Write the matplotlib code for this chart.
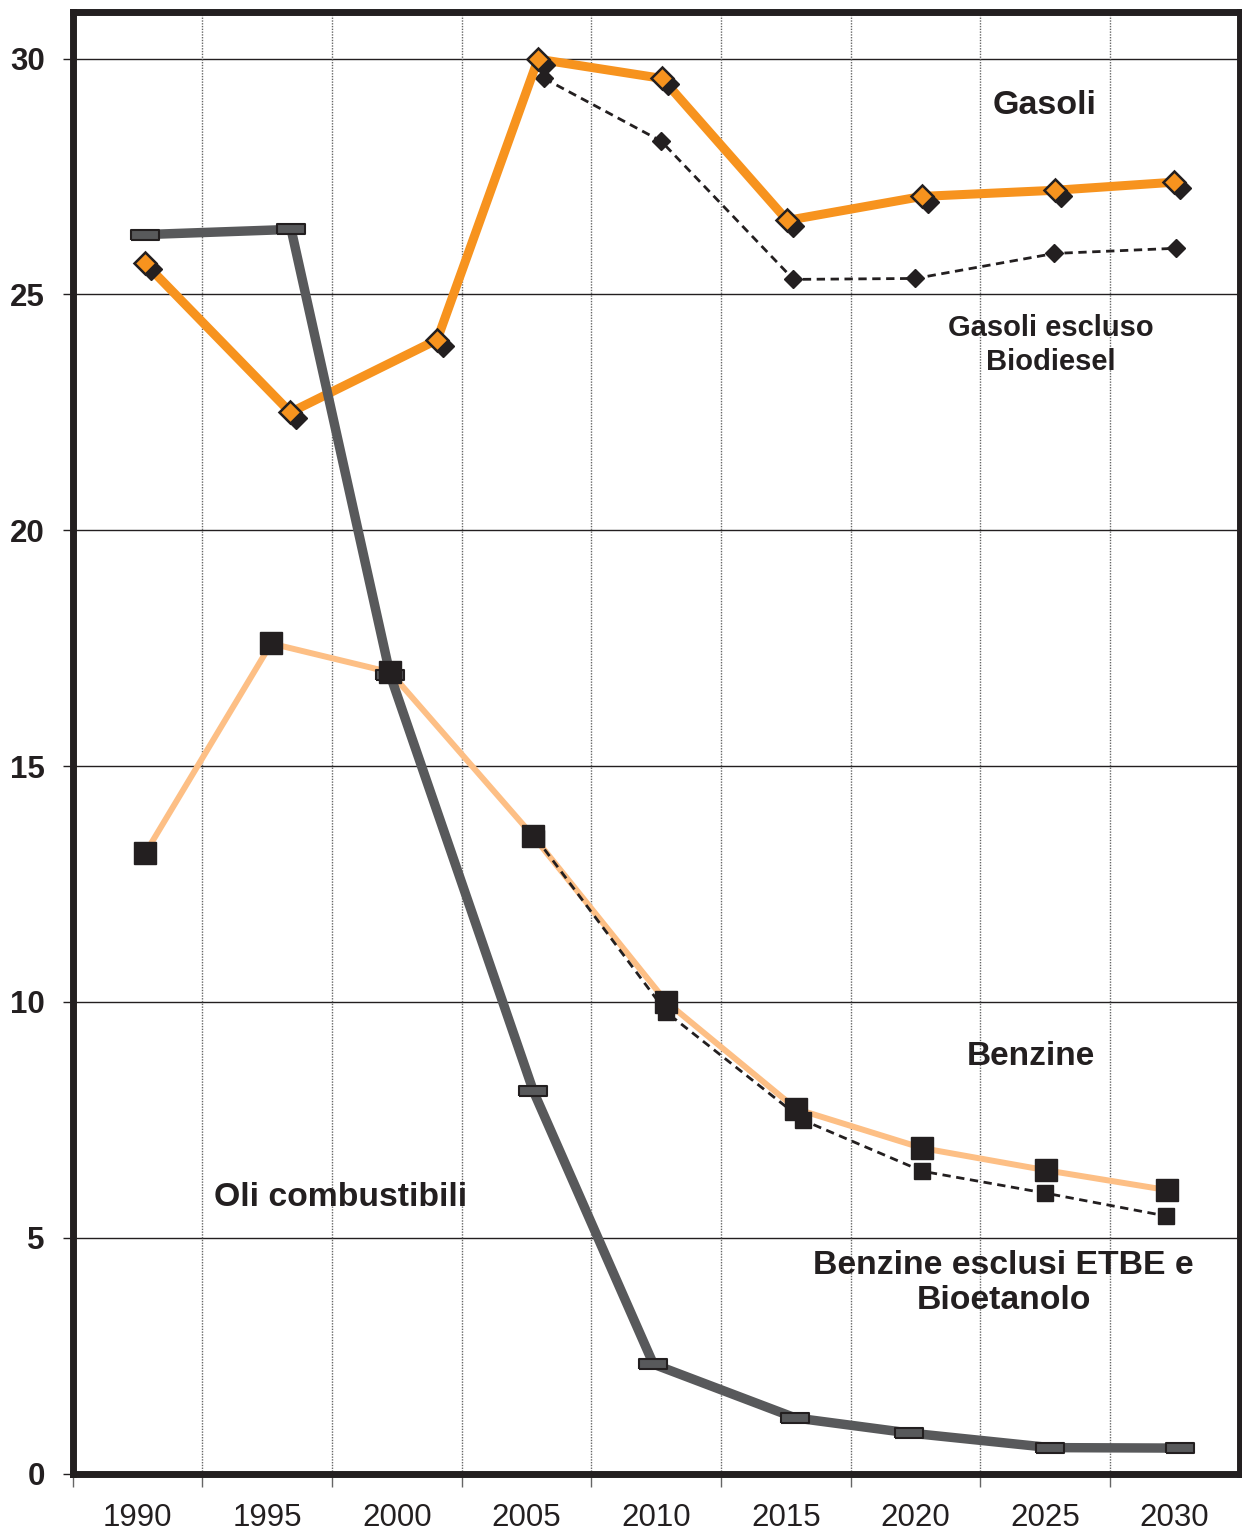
import numpy as np
import matplotlib
matplotlib.use("Agg")
import matplotlib.pyplot as plt
from matplotlib.transforms import offset_copy

# -------------------------------------------------------------------------------------------------- #

# Data (x = position on the year axis, y = value)

year_labels = ['1990', '1995', '2000', '2005', '2010', '2015', '2020', '2025', '2030']
year_ticks = [1990, 1995, 2000, 2005, 2010, 2015, 2020, 2025, 2030]

gasoli_x = [1990.3, 1995.9, 2001.56, 2005.45, 2010.24, 2015.06, 2020.27, 2025.4, 2029.96]
gasoli_y = [25.66, 22.50, 24.04, 29.99, 29.58, 26.57, 27.08, 27.21, 27.38]

gasoli_nobio_x = [2005.69, 2010.2, 2015.3, 2020.0, 2025.36, 2030.07]
gasoli_nobio_y = [29.58, 28.25, 25.32, 25.34, 25.87, 25.98]

oli_x = [1990.3, 1995.93, 1999.75, 2005.27, 2009.9, 2015.37, 2019.77, 2025.21, 2030.19]
oli_y = [26.27, 26.38, 16.93, 8.11, 2.32, 1.18, 0.86, 0.55, 0.54]

benzine_x = [1990.3, 1995.16, 1999.75, 2005.27, 2010.4, 2015.41, 2020.27, 2025.05, 2029.72]
benzine_y = [13.15, 17.60, 16.99, 13.51, 10.0, 7.73, 6.90, 6.43, 6.01]

benzine_noetbe_x = [2005.38, 2010.4, 2015.68, 2020.27, 2024.98, 2029.68]
benzine_noetbe_y = [13.47, 9.78, 7.49, 6.41, 5.95, 5.46]

# -------------------------------------------------------------------------------------------------- #

# Colours

orange = '#F7931E'
light_orange = '#FDBF85'
grey = '#58595B'
black = '#231F20'

plt.rcParams['font.family'] = ['Liberation Sans', 'DejaVu Sans']

fig = plt.figure(figsize=(12.42, 15.34), dpi=100)
ax = fig.add_axes([0.0584, 0.0394, 0.9396, 0.9531])

ax.set_xlim(1987.5, 2032.5)
ax.set_ylim(0, 31)

# Grid: solid horizontal lines, dotted vertical separators between the years
for v in range(5, 31, 5):
    ax.axhline(v, color=black, lw=1.0, zorder=1)
for g in np.arange(1992.5, 2030, 5):
    ax.axvline(g, color='#666666', lw=1.0, ls=(0, (1, 1)), zorder=1)

# Gasoli escluso Biodiesel (dashed)
ax.plot(gasoli_nobio_x, gasoli_nobio_y, color=black, lw=2, dashes=(3, 2),
        marker='D', ms=9, mfc=black, mec=black, zorder=3)

# Gasoli (thick orange line, diamond with black shadow)
ax.plot(gasoli_x, gasoli_y, color=orange, lw=6.5, zorder=4, solid_capstyle='butt')
shadow = offset_copy(ax.transData, fig=fig, x=6, y=-6, units='dots')
ax.plot(gasoli_x, gasoli_y, ls='none', marker='D', ms=11, mfc=black, mec=black,
        transform=shadow, zorder=5)
ax.plot(gasoli_x, gasoli_y, ls='none', marker='D', ms=11, mfc=orange, mec=black,
        mew=1.8, zorder=6)

# Benzine (light orange) and Benzine esclusi ETBE (dashed)
ax.plot(benzine_x, benzine_y, color=light_orange, lw=4.3, zorder=5)
ax.plot(benzine_noetbe_x, benzine_noetbe_y, color=black, lw=2, dashes=(3, 2),
        marker='s', ms=11.5, mfc=black, mec=black, zorder=6)

# Oli combustibili (thick grey line, flat rectangle markers)
rect = [(-3, -1), (3, -1), (3, 1), (-3, 1), (-3, -1)]
ax.plot(oli_x, oli_y, color=grey, lw=6.8, zorder=7, marker=rect, ms=20,
        mfc=grey, mec=black, mew=1.5)

# big black squares on top
ax.plot(benzine_x, benzine_y, ls='none', marker='s', ms=16.5, mfc=black, mec=black, zorder=9)

# -------------------------------------------------------------------------------------------------- #

# Labels inside the plot

ax.text(2024.98, 29.01, 'Gasoli', fontsize=24.5, fontweight='bold', color=black,
        ha='center', va='center', zorder=10)
ax.text(2025.21, 23.93, 'Gasoli escluso\nBiodiesel', fontsize=21, fontweight='bold',
        color=black, ha='center', va='center', linespacing=1.3, zorder=10)
ax.text(2024.44, 8.85, 'Benzine', fontsize=24, fontweight='bold', color=black,
        ha='center', va='center', zorder=10)
ax.text(2023.4, 4.04, 'Benzine esclusi ETBE e\nBioetanolo', fontsize=24.3,
        fontweight='bold', color=black, ha='center', va='center', linespacing=1.2, zorder=10)
ax.text(1997.83, 5.86, 'Oli combustibili', fontsize=24.3, fontweight='bold', color=black,
        ha='center', va='center', zorder=10)

# -------------------------------------------------------------------------------------------------- #

# Axes, ticks and frame

ax.set_xticks(year_ticks)
ax.set_xticklabels(year_labels, fontsize=22.5, color=black)
ax.set_xticks(np.arange(1987.5, 2030, 5), minor=True)
ax.tick_params(axis='x', which='major', length=0, pad=21)
ax.tick_params(axis='x', which='minor', length=9, width=1, color='#666666')

ax.set_yticks(range(0, 31, 5))
ax.set_yticklabels([str(v) for v in range(0, 31, 5)], fontsize=22.5, fontweight='bold', color=black)
ax.tick_params(axis='y', length=7, width=1, color=black, pad=13)

for side in ['left', 'right', 'top', 'bottom']:
    ax.spines[side].set_linewidth(5)
    ax.spines[side].set_color(black)
    ax.spines[side].set_zorder(11)

fig.savefig('out.png', dpi=100)
